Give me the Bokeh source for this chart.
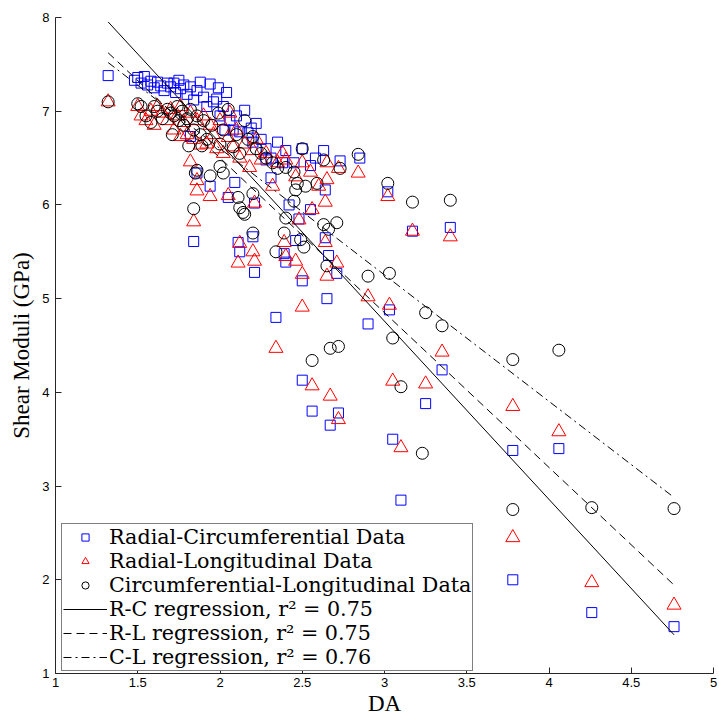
from bokeh.plotting import figure
from bokeh.models import Range1d, FixedTicker, Legend, LegendItem
from bokeh.embed import file_html
from bokeh.resources import INLINE

# ---------------- data ----------------
rc_da = [1.32, 1.48, 1.50, 1.52, 1.54, 1.56, 1.58, 1.60, 1.62, 1.64, 1.66, 1.68, 1.70, 1.72, 1.73,
         1.75, 1.76, 1.78, 1.80, 1.82, 1.84, 1.86, 1.88, 1.90, 1.92, 1.94, 1.96, 1.98, 1.99, 2.00,
         2.02, 2.04, 2.06, 2.08, 2.10, 2.12, 2.15, 2.17, 2.19, 2.22, 2.25, 2.28, 2.31, 2.35, 2.38,
         2.40, 2.45, 2.50, 2.55, 2.58, 2.63, 2.73, 2.85,
         1.82, 2.03, 1.86, 2.09, 2.20, 2.28, 2.11,
         1.84, 1.94, 2.05, 2.12, 2.20, 2.21, 2.21, 2.31, 2.34, 2.39, 2.40, 2.42, 2.46, 2.48, 2.50,
         2.50, 2.55, 2.56, 2.64, 2.64, 2.65, 2.66, 2.67, 2.71, 2.72, 2.90, 3.02, 3.03, 3.05, 3.10,
         3.17, 3.25, 3.35, 3.40, 3.78, 3.78, 4.06, 4.26, 4.76]
rc_gpa = [7.38, 7.33, 7.36, 7.30, 7.37, 7.28, 7.32, 7.25, 7.31, 7.27, 7.22, 7.30, 7.26, 7.30, 7.20,
          7.33, 7.24, 7.28, 7.18, 7.26, 7.12, 7.22, 7.31, 7.15, 7.05, 7.29, 7.10, 7.13, 7.25, 6.95,
          7.05, 7.20, 6.90, 6.80, 6.95, 6.78, 7.01, 6.77, 6.82, 6.87, 6.70, 6.60, 6.50, 6.67, 6.45,
          6.58, 6.45, 6.60, 6.42, 6.50, 6.58, 6.47, 6.50,
          6.73, 6.80, 6.34, 6.24, 6.67, 6.48, 5.60,
          5.61, 6.20, 6.08, 5.50, 5.66, 6.02, 5.28, 6.29, 4.80, 5.48, 5.39, 6.00, 5.62, 5.85, 5.19,
          4.13, 5.95, 3.80, 6.16, 5.65, 5.00, 5.46, 3.65, 5.27, 3.78, 4.73, 6.14, 4.88, 3.50, 2.85,
          5.72, 3.88, 4.24, 5.76, 3.38, 2.00, 3.40, 1.65, 1.50]

rl_da = [1.32, 1.50, 1.52, 1.55, 1.58, 1.60, 1.62, 1.65, 1.68, 1.70, 1.72, 1.74, 1.76, 1.76, 1.78,
         1.80, 1.82, 1.82, 1.84, 1.86, 1.88, 1.90, 1.92, 1.94, 1.96, 1.98, 2.00, 2.02, 2.05, 2.06,
         2.08, 2.10, 2.12, 2.15, 2.18, 2.20, 2.22, 2.25, 2.28, 2.32, 2.35, 2.38, 2.40, 2.46, 2.50,
         2.55, 2.60, 2.65, 2.65, 2.72, 2.84,
         1.84, 1.86, 1.86, 1.94, 2.05, 2.11, 2.12, 2.20, 2.21, 2.21, 2.34, 2.39, 2.40, 2.46, 2.48,
         2.50, 2.50, 2.56, 2.56, 2.64, 2.64, 2.65, 2.67, 2.71, 2.72, 2.90, 3.02, 3.03, 3.05, 3.10,
         3.17, 3.25, 3.35, 3.40, 3.78, 3.78, 4.06, 4.26, 4.76]
rl_gpa = [7.10, 7.05, 6.95, 6.90, 7.00, 6.85, 7.05, 6.98, 6.90, 7.02, 6.80, 6.95, 7.05, 6.73, 6.88,
          6.75, 6.98, 6.46, 6.70, 6.90, 6.64, 6.95, 6.65, 6.85, 6.75, 6.60, 6.90, 6.55, 6.72, 6.98,
          6.62, 6.80, 6.50, 6.65, 6.40, 6.58, 6.70, 6.48, 6.55, 6.20, 6.45, 6.55, 6.48, 6.30, 6.45,
          6.35, 6.20, 6.45, 6.27, 6.39, 6.34,
          5.82, 6.15, 6.26, 6.09, 6.10, 5.38, 5.59, 5.50, 5.40, 6.02, 4.47, 5.60, 5.45, 5.40, 5.84,
          5.26, 4.91, 5.95, 4.07, 6.03, 5.60, 5.24, 3.96, 5.38, 3.71, 5.02, 6.09, 4.93, 4.12, 3.41,
          5.72, 4.09, 4.43, 5.66, 3.85, 2.45, 3.58, 1.97, 1.73]

cl_da = [1.32, 1.50, 1.52, 1.55, 1.58, 1.60, 1.62, 1.65, 1.68, 1.70, 1.71, 1.72, 1.74, 1.75, 1.77,
         1.78, 1.80, 1.81, 1.82, 1.84, 1.86, 1.88, 1.89, 1.90, 1.92, 1.95, 1.99, 2.00, 2.02, 2.05,
         2.08, 2.10, 2.12, 2.15, 2.17, 2.20, 2.22, 2.25, 2.28, 2.32, 2.35, 2.40, 2.45, 2.50, 2.63,
         2.73, 2.84,
         1.84, 1.85, 1.86, 1.94, 2.00, 2.02, 2.11, 2.12, 2.14, 2.15, 2.20, 2.20, 2.34, 2.39, 2.40,
         2.45, 2.46, 2.47, 2.49, 2.51, 2.52, 2.56, 2.59, 2.63, 2.65, 2.66, 2.67, 2.71, 2.72, 2.90,
         3.02, 3.03, 3.05, 3.10, 3.17, 3.23, 3.25, 3.35, 3.40, 3.78, 3.78, 4.06, 4.26, 4.76]
cl_gpa = [7.10, 7.08, 7.05, 6.95, 6.88, 7.05, 7.00, 6.92, 7.02, 6.98, 6.75, 6.95, 7.05, 6.90, 7.00,
          6.85, 6.92, 6.63, 7.02, 6.80, 6.95, 6.75, 6.63, 6.90, 6.70, 6.85, 6.98, 6.65, 6.80, 7.02,
          6.62, 6.75, 6.55, 6.90, 6.70, 6.73, 6.60, 6.55, 6.50, 6.45, 6.39, 6.40, 6.35, 6.60, 6.48,
          6.39, 6.54,
          5.96, 6.34, 6.37, 6.31, 6.41, 6.34, 6.08, 5.97, 5.92, 5.90, 6.12, 5.70, 5.50, 5.70, 5.86,
          6.04, 6.16, 6.23, 5.63, 5.55, 6.20, 4.34, 6.23, 5.79, 5.35, 5.74, 4.47, 5.81, 4.49, 5.24,
          6.23, 5.27, 4.58, 4.06, 6.03, 3.35, 4.85, 4.71, 6.05, 4.35, 2.75, 4.45, 2.77, 2.76]

# regression lines: intercept, slope (Moduli = a + b * DA), drawn over the DA span
reg_names = ["R-C regression, r\u00b2 = 0.75", "R-L regression, r\u00b2 = 0.75", "C-L regression, r\u00b2 = 0.76"]
reg_intercept = [10.462, 9.803, 9.300]
reg_slope = [-1.901, -1.651, -1.349]

x_ticks = [1, 1.5, 2, 2.5, 3, 3.5, 4, 4.5, 5]
y_ticks = [1, 2, 3, 4, 5, 6, 7, 8]

# ---------------- figure ----------------
p = figure(width=719, height=718, output_backend="svg", toolbar_location=None,
           x_range=Range1d(1, 5), y_range=Range1d(1, 8),
           min_border_left=55, min_border_right=6, min_border_top=17, min_border_bottom=42)
p.outline_line_color = None
p.xgrid.visible = False
p.ygrid.visible = False
p.background_fill_color = "white"
p.border_fill_color = "white"

for ax, ticks in ((p.xaxis[0], x_ticks), (p.yaxis[0], y_ticks)):
    ax.ticker = FixedTicker(ticks=ticks)
    ax.major_tick_in = 6
    ax.major_tick_out = 0
    ax.minor_tick_line_color = None
    ax.axis_line_color = "#262626"
    ax.major_tick_line_color = "#262626"
    ax.major_label_text_font = "Liberation Sans"
    ax.major_label_text_font_size = "13px"
    ax.major_label_text_color = "black"
    ax.axis_label_text_font = "Liberation Serif"
    ax.axis_label_text_font_style = "normal"
    ax.axis_label_text_font_size = "23px"
    ax.axis_label_text_color = "black"

p.xaxis.axis_label = "DA"
p.yaxis.axis_label = "Shear Moduli (GPa)"
p.xaxis.major_label_standoff = 4
p.yaxis.major_label_standoff = 6
p.xaxis.axis_label_standoff = 1
p.yaxis.axis_label_standoff = 5

r_rc = p.scatter(rc_da, rc_gpa, marker="square", size=10, fill_color=None,
                 line_color="#0000ff", line_width=1)
r_rl = p.scatter(rl_da, rl_gpa, marker="triangle", size=14, fill_color=None,
                 line_color="#ff0000", line_width=1)
r_cl = p.scatter(cl_da, cl_gpa, marker="circle", size=12, fill_color=None,
                 line_color="black", line_width=1)

all_da = rc_da + rl_da + cl_da
x0, x1 = min(all_da), max(all_da)
dashes = ["solid", "8 5", "8 4 2 4"]
line_renderers = []
for a, b, d in zip(reg_intercept, reg_slope, dashes):
    lr = p.line([x0, x1], [a + b * x0, a + b * x1], line_color="black", line_width=1, line_dash=d)
    line_renderers.append(lr)

items = [
    LegendItem(label="Radial-Circumferential Data", renderers=[r_rc]),
    LegendItem(label="Radial-Longitudinal Data", renderers=[r_rl]),
    LegendItem(label="Circumferential-Longitudinal Data", renderers=[r_cl]),
] + [LegendItem(label=n, renderers=[lr]) for n, lr in zip(reg_names, line_renderers)]

legend = Legend(items=items, location=(6, 2), orientation="vertical")
legend.label_text_font = "DejaVu Serif"
legend.label_text_font_size = "20.7px"
legend.label_text_color = "black"
legend.label_height = 18
legend.glyph_height = 18
legend.glyph_width = 44
legend.label_standoff = 2
legend.spacing = 0
legend.padding = 1
legend.margin = 0
legend.border_line_color = "black"
legend.border_line_width = 1
legend.background_fill_color = "white"
legend.background_fill_alpha = 1.0
p.add_layout(legend, "center")

open("out.html", "w").write(file_html(p, INLINE))
